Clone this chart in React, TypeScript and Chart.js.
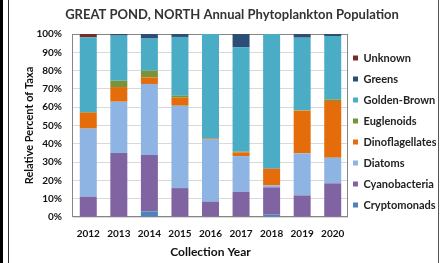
import { useEffect, useRef } from 'react';
import { Chart, registerables } from 'chart.js';

Chart.register(...registerables);

const years = ['2012', '2013', '2014', '2015', '2016', '2017', '2018', '2019', '2020'];

const cryptomonads = [0, 0, 3.1, 0, 0, 0, 1.3, 0, 0];
const cyanobacteria = [11.1, 35.0, 30.8, 15.8, 8.4, 13.8, 14.9, 11.8, 18.4];
const diatoms = [37.2, 28.0, 38.8, 45.0, 33.9, 19.5, 1.1, 23.0, 14.0];
const dinoflagellates = [8.7, 8.0, 3.6, 4.4, 0.5, 2.0, 9.1, 23.3, 31.0];
const euglenoids = [0.4, 3.5, 3.7, 1.1, 0, 0.3, 0, 0.2, 0.9];
const goldenBrown = [40.8, 24.6, 17.5, 32.1, 57.2, 57.1, 73.6, 39.7, 34.6];
const greens = [0, 0.9, 2.5, 1.6, 0, 7.3, 0, 2.0, 1.1];
const unknown = [1.8, 0, 0, 0, 0, 0, 0, 0, 0];

const seriesNames = ['Cryptomonads', 'Cyanobacteria', 'Diatoms', 'Dinoflagellates', 'Euglenoids', 'Golden-Brown', 'Greens', 'Unknown'];
const seriesValues = [cryptomonads, cyanobacteria, diatoms, dinoflagellates, euglenoids, goldenBrown, greens, unknown];
const seriesColors = ['#4F81BD', '#8064A2', '#8EB4E3', '#E46C0A', '#77933C', '#4BACC6', '#2C4D75', '#772C2A'];

const yTickStep = 10;
const titleText = 'GREAT POND, NORTH Annual Phytoplankton Population';
const yTitle = 'Relative Percent of Taxa';
const xTitle = 'Collection Year';

export default function App() {
  const ref = useRef<HTMLCanvasElement>(null);

  useEffect(() => {
    if (!ref.current) return;

    const shiftLegend = {
      id: 'shiftLegend',
      afterLayout(chart: any) {
        const l = chart.legend;
        if (!l) return;
        l.left -= 5;
        l.right -= 5;
      },
    };

    const frame = {
      id: 'frame',
      beforeDatasetsDraw(chart: any) {
        const { ctx, chartArea: a } = chart;
        ctx.save();
        ctx.strokeStyle = '#868686';
        ctx.lineWidth = 1;
        ctx.strokeRect(Math.round(a.left) - 0.5, Math.round(a.top) + 0.5, Math.round(a.right - a.left), Math.round(a.bottom - a.top) - 1);
        ctx.restore();
      },
    };

    const chart = new Chart(ref.current, {
      type: 'bar',
      data: {
        labels: years,
        datasets: seriesNames.map((name, i) => ({
          label: name,
          data: seriesValues[i],
          backgroundColor: seriesColors[i],
          borderWidth: 0,
          categoryPercentage: 0.556,
          barPercentage: 1,
        })),
      },
      options: {
        responsive: false,
        animation: false,
        events: [],
        layout: { padding: 0 },
        plugins: {
          title: {
            display: true,
            text: titleText,
            color: '#333333',
            font: { family: 'Lato', size: 13, weight: 'bold' },
            padding: { top: 7, bottom: 11.4 },
          },
          legend: {
            display: true,
            position: 'right',
            reverse: true,
            maxWidth: 93,
            labels: {
              boxWidth: 5,
              boxHeight: 5,
              padding: 10,
              color: '#222222',
              font: { family: 'Lato', size: 11, weight: 'bold' },
            },
          },
          tooltip: { enabled: false },
        },
        scales: {
          x: {
            stacked: true,
            grid: { display: false, drawTicks: false },
            border: { display: false },
            ticks: {
              color: '#111111',
              padding: 11,
              font: { family: 'Lato', size: 10, weight: 'bold' },
            },
            title: {
              display: true,
              text: xTitle,
              color: '#111111',
              font: { family: 'Lato', size: 12, weight: 'bold' },
              padding: { top: 0, bottom: 4 },
            },
            afterFit(scale: any) {
              scale.height = 46;
            },
          },
          y: {
            stacked: true,
            min: 0,
            max: 100,
            grid: { color: '#D9D9D9', drawTicks: false },
            border: { display: false },
            ticks: {
              stepSize: yTickStep,
              color: '#111111',
              padding: 11,
              font: { family: 'Lato', size: 10, weight: 'bold' },
              callback: (v: any) => v + '%',
            },
            title: {
              display: true,
              text: yTitle,
              color: '#111111',
              font: { family: 'Lato', size: 11, weight: 'bold' },
              padding: { top: 0, bottom: 0 },
            },
            afterFit(scale: any) {
              scale.width = 50;
            },
          },
        },
      },
      plugins: [shiftLegend, frame],
    } as any);

    return () => chart.destroy();
  }, []);

  return (
    <div style={{ position: 'fixed', left: 0, top: 0, width: 441, height: 263, background: '#fff', overflow: 'hidden' }}>
      <div style={{ position: 'absolute', left: 0, top: 0, width: 3, height: 263, background: '#000' }} />
      <div style={{ position: 'absolute', left: 8, top: 0, width: 1, height: 263, background: '#333' }} />
      <div style={{ position: 'absolute', left: 438, top: 0, width: 1, height: 263, background: '#555' }} />
      <canvas ref={ref} width={418} height={263} style={{ position: 'absolute', left: 23, top: 0, width: 418, height: 263 }} />
    </div>
  );
}
